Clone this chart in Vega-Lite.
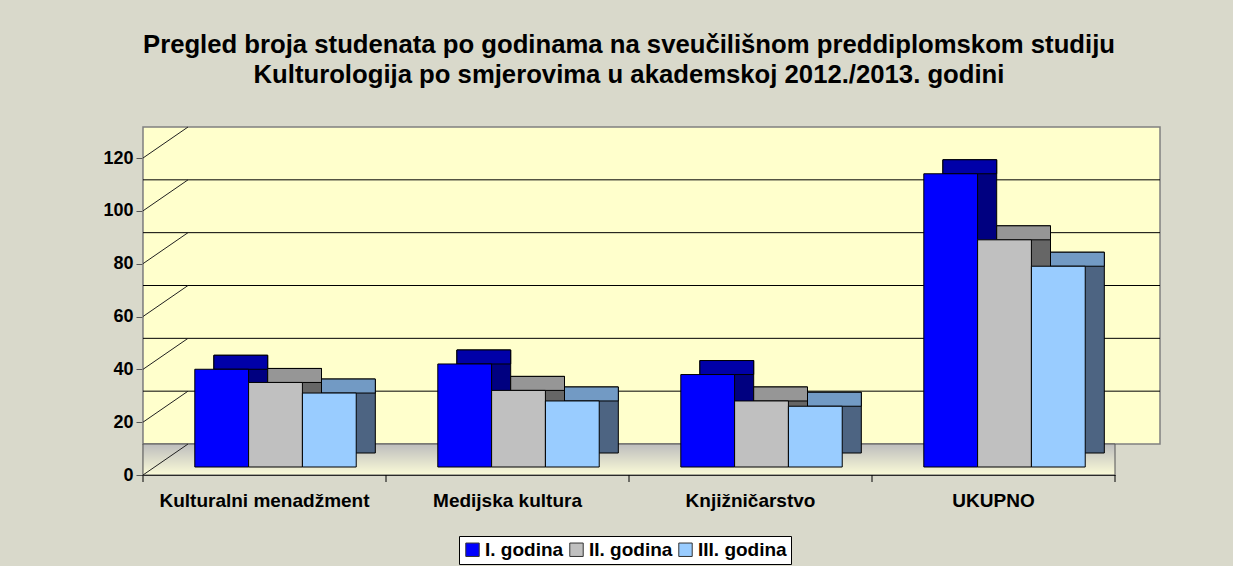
{
  "$schema": "https://vega.github.io/schema/vega-lite/v6.json",
  "width": 972,
  "height": 317,
  "autosize": {"type": "none"},
  "padding": {"left": 143, "top": 158, "right": 118, "bottom": 91},
  "background": "#d9d9cb",
  "title": {
    "text": ["Pregled broja studenata po godinama na sveučilišnom preddiplomskom studiju", "Kulturologija po smjerovima u akademskoj 2012./2013. godini"],
    "font": "Liberation Sans",
    "fontSize": 25.7,
    "fontWeight": "bold",
    "color": "#000000",
    "anchor": "middle",
    "offset": 38,
    "lineHeight": 30
  },
  "datasets": {
    "students": [
      {"smjer": "Kulturalni menadžment", "godina": "I. godina", "broj": 37},
      {"smjer": "Kulturalni menadžment", "godina": "II. godina", "broj": 32},
      {"smjer": "Kulturalni menadžment", "godina": "III. godina", "broj": 28},
      {"smjer": "Medijska kultura", "godina": "I. godina", "broj": 39},
      {"smjer": "Medijska kultura", "godina": "II. godina", "broj": 29},
      {"smjer": "Medijska kultura", "godina": "III. godina", "broj": 25},
      {"smjer": "Knjižničarstvo", "godina": "I. godina", "broj": 35},
      {"smjer": "Knjižničarstvo", "godina": "II. godina", "broj": 25},
      {"smjer": "Knjižničarstvo", "godina": "III. godina", "broj": 23},
      {"smjer": "UKUPNO", "godina": "I. godina", "broj": 111},
      {"smjer": "UKUPNO", "godina": "II. godina", "broj": 86},
      {"smjer": "UKUPNO", "godina": "III. godina", "broj": 76}
    ],
    "grid": [{"v": 20}, {"v": 40}, {"v": 60}, {"v": 80}, {"v": 100}],
    "diag": [{"v": 0}, {"v": 20}, {"v": 40}, {"v": 60}, {"v": 80}, {"v": 100}, {"v": 120}],
    "wall": [{"lo": 0, "hi": 120}],
    "floor": [{"z": 0}],
    "cats": [{"smjer": "Kulturalni menadžment"}, {"smjer": "Medijska kultura"}, {"smjer": "Knjižničarstvo"}, {"smjer": "UKUPNO"}]
  },
  "layer": [
    {
      "data": {"name": "wall"},
      "mark": {"type": "rect", "fill": "#ffffcc", "stroke": "#808080", "strokeWidth": 1.5, "xOffset": 45, "x2Offset": 45, "yOffset": -31, "y2Offset": -31},
      "encoding": {
        "y": {"field": "lo", "type": "quantitative", "scale": {"domain": [0, 120], "nice": false}, "axis": {"values": [0, 20, 40, 60, 80, 100, 120], "title": null}},
        "y2": {"field": "hi"}
      }
    },
    {
      "data": {"name": "floor"},
      "mark": {
        "type": "rect",
        "fill": {"gradient": "linear", "x1": 0, "y1": 0, "x2": 0, "y2": 1, "stops": [{"offset": 0, "color": "#bdbdbd"}, {"offset": 1, "color": "#fbfbd8"}]},
        "stroke": "#555555",
        "strokeWidth": 1,
        "x2Offset": 45,
        "y2Offset": -31
      },
      "encoding": {
        "y": {"field": "z", "type": "quantitative"},
        "y2": {"field": "z"}
      }
    },
    {
      "data": {"name": "grid"},
      "mark": {"type": "rule", "color": "#000000", "strokeWidth": 1, "xOffset": 45, "x2Offset": 45, "yOffset": -31, "y2Offset": -31},
      "encoding": {
        "y": {"field": "v", "type": "quantitative"}
      }
    },
    {
      "data": {"name": "diag"},
      "mark": {"type": "rule", "color": "#202020", "strokeWidth": 1, "x2Offset": -76.5, "y2Offset": -31},
      "encoding": {
        "x": {"datum": "Kulturalni menadžment", "bandPosition": 0},
        "x2": {"datum": "Kulturalni menadžment"},
        "y": {"field": "v", "type": "quantitative"},
        "y2": {"field": "v"}
      }
    },
    {
      "data": {"name": "cats"},
      "mark": {"type": "rule", "color": "#000000", "strokeWidth": 1, "y2Offset": 7},
      "encoding": {
        "x": {"field": "smjer", "type": "nominal", "sort": null, "bandPosition": 0},
        "y": {"datum": 0},
        "y2": {"datum": 0}
      }
    },
    {
      "data": {"name": "cats"},
      "transform": [{"filter": "datum.smjer === 'UKUPNO'"}],
      "mark": {"type": "rule", "color": "#000000", "strokeWidth": 1, "y2Offset": 7},
      "encoding": {
        "x": {"field": "smjer", "type": "nominal", "sort": null, "bandPosition": 1},
        "y": {"datum": 0},
        "y2": {"datum": 0}
      }
    },
    {
      "data": {"name": "students"},
      "layer": [
        {
          "mark": {"type": "bar", "stroke": "#000000", "strokeWidth": 1, "yOffset": -22, "y2Offset": -22},
          "encoding": {
            "x": {"field": "smjer", "type": "nominal", "sort": null, "scale": {"paddingInner": 0, "paddingOuter": 0}, "axis": {"title": null}},
            "xOffset": {"field": "godina", "sort": null, "scale": {"paddingInner": 0, "paddingOuter": 0.758, "align": 0.869}},
            "y": {"field": "broj", "type": "quantitative"},
            "fill": {"field": "godina", "type": "nominal", "sort": null, "scale": {"domain": ["I. godina", "II. godina", "III. godina"], "range": ["#000080", "#666666", "#4d6482"]}, "legend": null}
          }
        },
        {
          "mark": {"type": "bar", "stroke": "#000000", "strokeWidth": 1, "yOffset": -22, "y2Offset": -8},
          "encoding": {
            "x": {"field": "smjer", "type": "nominal", "sort": null},
            "xOffset": {"field": "godina", "sort": null},
            "y": {"field": "broj", "type": "quantitative"},
            "y2": {"field": "broj"},
            "fill": {"field": "godina", "type": "nominal", "sort": null, "scale": {"domain": ["I. godina", "II. godina", "III. godina"], "range": ["#0000a8", "#969696", "#729ac4"]}, "legend": null}
          }
        }
      ],
      "resolve": {"scale": {"fill": "independent"}}
    },
    {
      "data": {"name": "students"},
      "mark": {"type": "bar", "stroke": "#000000", "strokeWidth": 1, "yOffset": -8, "y2Offset": -8},
      "encoding": {
        "x": {"field": "smjer", "type": "nominal", "sort": null},
        "xOffset": {"field": "godina", "sort": null, "scale": {"paddingInner": 0, "paddingOuter": 0.758, "align": 0.635}},
        "y": {"field": "broj", "type": "quantitative"},
        "color": {
          "field": "godina", "type": "nominal", "sort": null,
          "scale": {"domain": ["I. godina", "II. godina", "III. godina"], "range": ["#0000ff", "#c0c0c0", "#99ccff"]},
          "legend": {
            "title": null, "orient": "none", "direction": "horizontal", "legendX": 316, "legendY": 378,
            "fillColor": "#ffffff", "strokeColor": "#000000", "padding": 4,
            "symbolType": "square", "symbolSize": 180, "symbolStrokeColor": "#333333", "symbolStrokeWidth": 1, "symbolOpacity": 1,
            "labelFont": "Liberation Sans", "labelFontSize": 19, "labelFontWeight": "bold", "labelColor": "#000000",
            "labelOffset": 3, "columnPadding": 3
          }
        }
      }
    }
  ],
  "resolve": {"scale": {"fill": "independent", "xOffset": "independent"}},
  "config": {
    "view": {"stroke": null, "fill": "#ffffcc"},
    "axisX": {
      "labelFont": "Liberation Sans", "labelFontSize": 19, "labelFontWeight": "bold", "labelColor": "#000000",
      "labelAngle": 0, "ticks": false, "labelPadding": 16, "labelLimit": 0, "domainColor": "#000000", "domainWidth": 1.2, "grid": false
    },
    "axisY": {
      "labelFont": "Liberation Sans", "labelFontSize": 18, "labelFontWeight": "bold", "labelColor": "#000000",
      "tickSize": 7, "tickColor": "#555555", "labelPadding": 3, "domainColor": "#808080", "domainWidth": 1.5, "grid": false
    }
  }
}
